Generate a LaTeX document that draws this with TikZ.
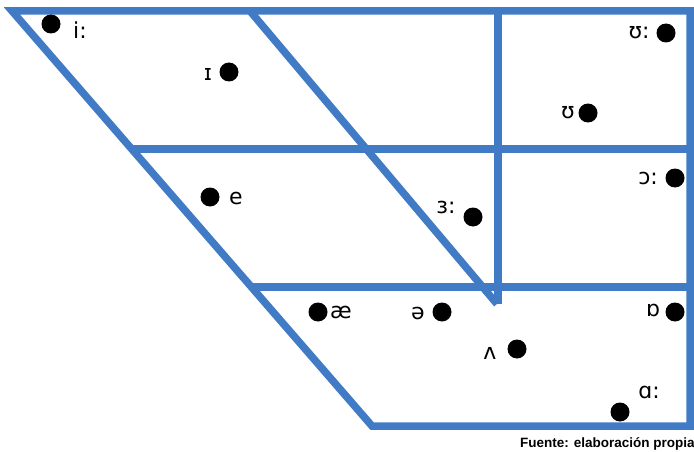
\documentclass[tikz,border=0pt]{standalone}
\usepackage{fontspec}
\setmainfont{DejaVu Sans}
\newfontfamily\footfont{Liberation Sans}
\definecolor{chartblue}{RGB}{65,123,197}
\begin{document}
\begin{tikzpicture}[x=1pt,y=-1pt,
  frame/.style={draw=chartblue,line width=7.5pt,line join=miter},
  vdot/.style={circle,fill=black,inner sep=0pt,minimum size=19pt},
  ipa/.style={font=\fontsize{22}{22}\selectfont,inner sep=0pt},
  foot/.style={font=\footfont\bfseries\fontsize{13.5}{13.5}\selectfont,inner sep=0pt,anchor=west}]
\useasboundingbox (0,0) rectangle (694,452);
% frame
\coordinate (TL) at (12,11);
\coordinate (TR) at (690,11);
\coordinate (BR) at (690,426);
\coordinate (BL) at (372,426);
\coordinate (M1L) at (132.6,149);
\coordinate (M1R) at (690,149);
\coordinate (M2L) at (252,287);
\coordinate (M2R) at (690,287);
\coordinate (VT) at (498,11);
\coordinate (VB) at (498,304);
\coordinate (ST) at (250,11);
\coordinate (SB) at (497,304);
\draw[frame] (TL) -- (TR) -- (BR) -- (BL) -- cycle;
\draw[frame] (M1L) -- (M1R);
\draw[frame] (M2L) -- (M2R);
\draw[frame] (VT) -- (VB);
\draw[frame] (ST) -- (SB);
% vowels
\node[vdot] (d1) at (51,24) {};   \node[ipa] (l1) at (80,30) {i:};
\node[vdot] (d2) at (229,72) {};  \node[ipa] (l2) at (208,74) {ɪ};
\node[vdot] (d3) at (666,33) {};  \node[ipa] (l3) at (639,33) {ʊ:};
\node[vdot] (d4) at (588,113) {}; \node[ipa] (l4) at (568,113) {ʊ};
\node[vdot] (d5) at (210,197) {}; \node[ipa] (l5) at (236,198) {e};
\node[vdot] (d6) at (473,217) {}; \node[ipa] (l6) at (446,207) {ɜ:};
\node[vdot] (d7) at (675,178) {}; \node[ipa] (l7) at (648,178) {ɔ:};
\node[vdot] (d8) at (318,312) {}; \node[ipa] (l8) at (341,312) {æ};
\node[vdot] (d9) at (442,312) {}; \node[ipa] (l9) at (418,313) {ə};
\node[vdot] (d10) at (675,312) {}; \node[ipa] (l10) at (653,310) {ɒ};
\node[vdot] (d11) at (517,349) {}; \node[ipa] (l11) at (490,353) {ʌ};
\node[vdot] (d12) at (620,412) {}; \node[ipa] (l12) at (649,392) {ɑ:};
\node[foot] (src) at (520,444) {Fuente: elaboración propia};
\end{tikzpicture}
\end{document}
